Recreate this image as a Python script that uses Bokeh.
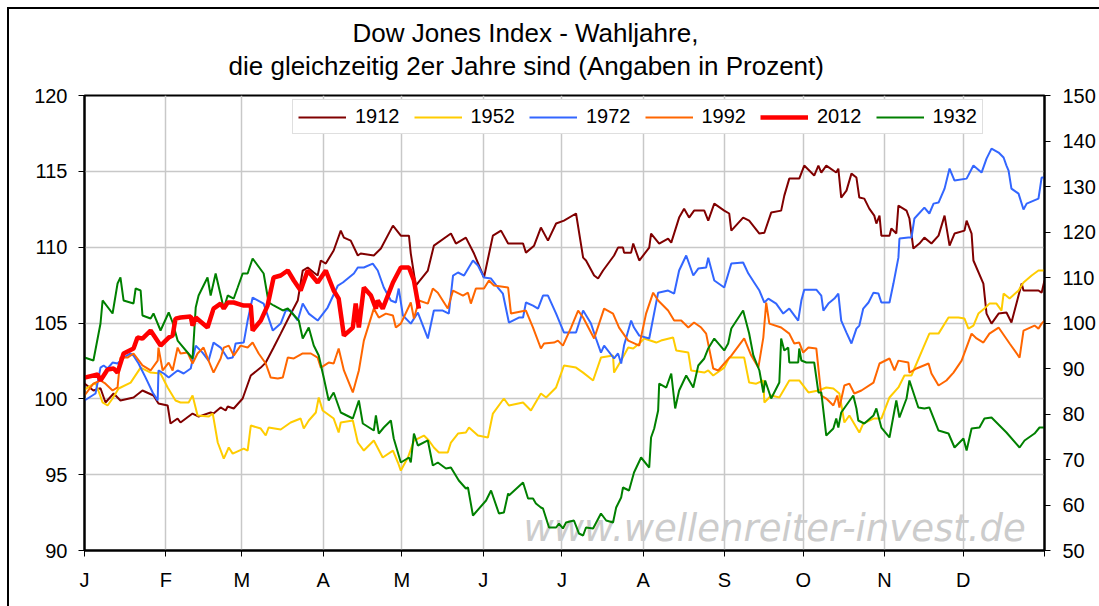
from bokeh.plotting import figure
from bokeh.models import (Range1d, LinearAxis, FixedTicker, Legend, Label, Title)
from bokeh.embed import file_html
from bokeh.resources import INLINE

# ---------------- data (day of year, value in percent) ----------------
months = ["J", "F", "M", "A", "M", "J", "J", "A", "S", "O", "N", "D"]
month_start_days = [0, 31, 60, 91, 121, 152, 182, 213, 244, 274, 305, 335, 366]

d1912 = [0, 3.4, 6.1, 8.0, 11.1, 13.7, 18.7, 22.1, 26.3, 28.2, 31.7, 32.8, 35.5, 36.6, 41.2, 43.5, 48.1, 49.2,
         51.9, 53.8, 54.6, 56.9, 60.3, 63.4, 67.2, 69.1, 72.1, 74.8, 77.9, 81.3, 83.2, 85.1, 87.4, 88.9, 90.1,
         92.0, 95.0, 97.7, 98.9, 101.5, 104.2, 105.3, 110.3, 113.0, 117.6, 120.6, 123.7, 124.4, 126.3, 130.9,
         133.2, 139.7, 141.6, 145.4, 148.5, 152.3, 155.7, 158.8, 161.5, 167.2, 168.3, 171.4, 174.0, 176.7,
         179.8, 182.8, 187.4, 190.1, 191.2, 194.3, 195.8, 197.7, 201.9, 203.4, 205.3, 205.7, 208.4, 209.2,
         211.5, 215.3, 216.0, 219.1, 222.5, 223.7, 226.7, 228.6, 230.5, 232.4, 236.3, 237.8, 240.1, 243.9,
         245.8, 246.6, 251.1, 253.4, 257.3, 259.2, 261.8, 265.6, 266.8, 268.7, 272.5, 274.4, 278.2, 279.8,
         280.9, 282.8, 286.6, 287.4, 288.5, 290.5, 292.4, 294.3, 295.4, 297.3, 299.2, 301.1, 301.9, 303.1,
         303.8, 306.9, 307.6, 309.5, 310.3, 313.4, 314.5, 316.0, 318.3, 320.2, 322.9, 325.6, 327.9, 329.8,
         331.7, 335.5, 336.3, 338.2, 338.9, 342.7, 343.9, 345.8, 348.5, 351.5, 353.4, 357.3, 358.0, 363.7,
         364.9, 366]
v1912 = [101.0, 100.55, 100.7, 99.76, 100.35, 99.89, 100.09, 100.55, 100.22, 99.69, 99.56, 98.37, 98.7, 98.44,
         99.03, 98.83, 99.1, 99.03, 99.43, 99.23, 99.49, 99.36, 100.02, 101.54, 102.06, 102.39, 103.38, 104.3,
         105.36, 106.48, 108.46, 108.66, 108.33, 108.13, 109.12, 108.92, 109.78, 111.09, 110.63, 110.43, 109.45,
         109.58, 109.45, 109.91, 111.42, 110.76, 110.76, 109.58, 107.47, 108.46, 110.1, 110.9, 110.24, 110.63,
         109.58, 108.0, 110.76, 111.09, 110.24, 110.24, 109.64, 110.1, 111.29, 110.43, 111.56, 111.75, 112.22,
         109.31, 109.12, 108.13, 107.93, 108.46, 109.45, 109.97, 109.97, 109.64, 109.64, 110.24, 109.12, 109.97,
         110.9, 110.24, 110.57, 110.3, 111.95, 112.54, 111.95, 112.41, 112.41, 111.75, 112.87, 112.41, 112.22,
         111.09, 111.95, 111.75, 110.9, 110.95, 112.28, 112.41, 113.4, 114.52, 114.52, 115.38, 114.72, 115.38,
         114.92, 115.38, 114.92, 115.18, 113.27, 113.73, 114.85, 114.59, 113.27, 113.2, 112.54, 112.08, 111.56,
         112.08, 110.76, 110.76, 111.23, 110.9, 112.74, 112.41, 111.89, 109.91, 110.24, 110.63, 110.24, 110.76,
         112.08, 110.1, 110.9, 111.09, 111.75, 110.9, 109.12, 107.6, 105.62, 104.96, 105.62, 105.69, 105.03,
         107.6, 107.14, 107.14, 107.0, 107.8]

d1952 = [0, 4.2, 6.9, 8.8, 10.7, 13.0, 17.6, 21.4, 25.2, 29.0, 31.7, 34.7, 36.6, 39.7, 41.2, 43.1, 47.3, 48.9,
         50.8, 53.1, 55.0, 56.5, 60.7, 62.2, 63.4, 67.2, 69.1, 70.2, 74.8, 78.6, 82.4, 83.6, 85.5, 88.2, 89.3,
         90.8, 95.0, 96.9, 97.7, 102.3, 104.2, 106.5, 110.3, 113.7, 117.6, 119.5, 120.6, 123.3, 125.6, 129.4,
         131.3, 133.2, 135.1, 138.5, 139.7, 142.4, 145.4, 146.6, 150.0, 153.8, 155.7, 159.9, 161.8, 167.2,
         170.2, 174.0, 176.0, 179.8, 182.8, 187.4, 190.1, 193.9, 196.9, 201.5, 201.9, 204.6, 207.3, 209.2,
         211.5, 213.4, 218.0, 219.8, 224.4, 225.6, 230.2, 231.3, 236.3, 237.8, 239.7, 243.9, 245.8, 251.5,
         253.4, 256.1, 258.8, 259.2, 261.8, 264.9, 268.7, 272.5, 276.0, 279.8, 282.8, 285.5, 287.8, 289.7,
         291.6, 295.4, 296.9, 300.8, 303.8, 306.9, 310.3, 312.6, 315.3, 316.4, 319.8, 322.1, 325.6, 329.4,
         333.2, 335.5, 337.0, 338.9, 340.8, 343.1, 345.0, 347.7, 349.6, 350.4, 352.7, 356.1, 358.0, 361.1,
         363.7, 366]
v1952 = [100.6, 101.07, 99.76, 99.56, 100.02, 100.68, 101.07, 102.06, 101.73, 101.67, 100.75, 99.89, 99.76,
         99.76, 100.22, 98.9, 98.83, 99.03, 97.12, 96.06, 96.79, 96.39, 96.72, 96.59, 98.24, 98.04, 97.58,
         98.11, 97.98, 98.44, 98.7, 98.04, 98.57, 99.1, 100.09, 99.23, 98.7, 97.78, 98.44, 98.57, 97.12, 96.59,
         97.25, 96.13, 96.59, 95.8, 95.27, 96.13, 97.25, 97.58, 97.25, 96.79, 96.46, 96.46, 97.12, 97.71,
         97.78, 98.11, 97.58, 97.45, 99.03, 100.02, 99.56, 99.76, 99.23, 100.35, 100.09, 100.75, 102.2, 102.06,
         101.73, 101.21, 102.72, 102.85, 101.73, 102.52, 103.38, 103.32, 103.65, 103.98, 103.71, 103.84,
         104.04, 103.18, 103.05, 101.87, 101.73, 101.87, 101.54, 102.06, 102.72, 102.72, 101.07, 101.0, 101.21,
         99.76, 100.22, 100.09, 101.21, 101.21, 100.42, 100.55, 100.75, 100.68, 100.35, 98.44, 98.9, 97.78,
         98.37, 98.7, 98.7, 100.09, 100.75, 101.54, 101.54, 102.0, 103.38, 104.3, 104.3, 105.36, 105.36,
         105.29, 104.63, 104.83, 105.62, 105.95, 106.28, 106.28, 105.82, 106.94, 106.61, 107.14, 107.67,
         108.13, 108.46, 108.46]

d1972 = [0, 4.2, 6.1, 7.3, 8.8, 10.7, 12.6, 14.9, 17.6, 18.7, 20.6, 23.3, 26.0, 27.9, 28.2, 30.2, 32.1, 34.0,
         35.5, 37.8, 40.5, 42.4, 45.0, 47.3, 49.2, 51.9, 54.6, 56.5, 57.6, 60.7, 62.2, 64.1, 68.3, 71.8, 74.8,
         76.7, 78.6, 81.3, 83.2, 85.5, 88.9, 92.7, 96.6, 98.5, 102.7, 104.2, 106.5, 109.9, 111.8, 114.1, 116.8,
         118.7, 119.8, 121.4, 124.4, 127.1, 130.9, 133.2, 136.6, 138.9, 140.5, 142.4, 144.7, 148.1, 150.0,
         152.3, 155.0, 157.6, 159.5, 161.8, 165.6, 167.2, 168.3, 171.0, 172.9, 174.8, 176.7, 179.8, 182.8,
         187.4, 190.1, 193.1, 195.0, 196.9, 198.1, 201.9, 203.4, 204.6, 205.7, 208.4, 209.5, 211.5, 215.3,
         218.7, 222.5, 224.8, 226.7, 229.4, 232.1, 234.0, 237.0, 237.8, 240.1, 243.9, 246.6, 251.1, 253.1,
         255.3, 257.3, 259.2, 260.7, 263.7, 266.4, 268.7, 272.1, 273.3, 274.4, 279.0, 280.9, 281.7, 283.6,
         285.9, 287.4, 288.5, 290.5, 292.4, 294.3, 295.4, 296.9, 298.9, 300.8, 302.7, 303.8, 306.9, 308.4,
         310.3, 310.7, 314.1, 315.3, 316.4, 320.2, 322.1, 323.7, 325.6, 327.9, 329.8, 331.7, 336.3, 338.9,
         342.0, 343.9, 345.8, 348.5, 350.4, 351.5, 352.3, 353.4, 356.1, 358.0, 359.2, 363.7, 364.9, 366]
v1972 = [99.89, 100.35, 102.06, 102.2, 102.0, 102.39, 102.33, 102.72, 102.99, 102.85, 102.33, 101.4, 100.42,
         99.89, 101.87, 101.67, 101.4, 101.67, 101.87, 101.67, 102.0, 103.51, 103.05, 102.52, 103.71, 103.38,
         102.66, 102.72, 103.65, 103.71, 105.16, 106.68, 106.28, 104.5, 104.96, 105.82, 105.82, 105.16, 106.28,
         105.62, 105.16, 106.02, 107.47, 107.67, 108.26, 108.66, 108.66, 108.92, 108.46, 107.34, 106.48,
         106.35, 107.27, 105.49, 104.96, 105.69, 103.98, 105.82, 105.82, 105.62, 108.13, 108.33, 108.13,
         109.12, 108.79, 108.0, 107.93, 107.34, 106.94, 105.03, 105.36, 105.36, 106.35, 106.15, 105.95, 106.81,
         106.81, 105.62, 104.37, 104.37, 105.82, 104.96, 103.98, 103.05, 103.51, 102.66, 102.99, 102.33,
         103.51, 105.16, 104.7, 104.17, 103.98, 107.0, 107.14, 106.94, 108.46, 109.45, 108.13, 108.59, 108.66,
         109.31, 107.8, 107.34, 108.92, 108.99, 108.26, 107.67, 107.14, 106.35, 106.61, 106.28, 105.62,
         105.95, 105.16, 106.48, 107.2, 107.2, 106.81, 105.82, 106.28, 106.61, 106.94, 105.16, 104.37, 103.65,
         104.63, 104.83, 105.95, 106.35, 107.0, 106.94, 106.35, 106.35, 107.6, 109.31, 110.57, 110.63, 110.63,
         111.89, 112.61, 112.22, 112.87, 112.94, 113.86, 115.18, 114.39, 114.52, 115.38, 114.92, 115.84,
         116.5, 116.24, 115.91, 115.38, 115.05, 113.86, 113.53, 112.48, 112.87, 113.2, 114.59, 114.59]

d1992 = [0, 3.4, 6.1, 8.0, 10.7, 12.6, 13.7, 16.4, 18.7, 22.1, 25.2, 27.9, 28.2, 29.8, 32.1, 33.6, 35.5, 36.6,
         39.3, 41.2, 43.1, 45.4, 47.3, 49.2, 51.9, 53.1, 55.0, 56.9, 59.5, 62.2, 64.1, 66.4, 69.1, 71.0, 73.7,
         75.6, 77.5, 79.8, 83.2, 86.3, 88.9, 90.1, 93.1, 95.0, 96.9, 98.9, 102.3, 104.6, 106.5, 110.3, 112.2,
         114.9, 117.6, 118.7, 120.6, 124.4, 125.6, 127.5, 130.9, 132.8, 134.7, 138.5, 140.5, 144.3, 146.2,
         147.3, 149.2, 152.3, 154.2, 156.1, 161.5, 162.6, 168.3, 171.0, 174.0, 175.2, 179.0, 180.5, 182.4,
         185.5, 188.2, 190.1, 194.3, 198.1, 201.5, 203.8, 207.3, 211.5, 214.1, 216.8, 218.7, 222.5, 224.8,
         227.5, 230.2, 232.4, 235.1, 237.0, 239.7, 241.6, 243.9, 246.6, 251.5, 254.2, 256.9, 258.8, 259.9,
         261.1, 265.6, 268.7, 270.6, 272.5, 274.0, 276.0, 279.0, 280.9, 282.8, 285.5, 287.0, 287.8, 289.7,
         291.6, 293.5, 296.2, 300.8, 303.1, 306.9, 308.8, 310.3, 314.1, 314.5, 317.2, 321.8, 322.9, 325.6,
         328.6, 331.3, 334.4, 338.2, 340.1, 342.7, 345.0, 348.5, 352.7, 356.5, 358.0, 362.2, 363.7, 364.9, 366]
v1992 = [100.22, 101.0, 101.21, 101.0, 100.55, 100.75, 102.72, 102.72, 102.99, 102.2, 101.87, 102.52, 103.38,
         101.87, 102.39, 101.87, 103.38, 102.99, 103.05, 102.33, 102.99, 103.38, 102.52, 101.73, 102.66,
         103.38, 103.51, 102.85, 103.51, 103.38, 103.71, 102.99, 102.33, 101.4, 101.34, 101.4, 102.72, 102.66,
         102.99, 102.99, 102.72, 102.06, 102.39, 102.33, 103.32, 101.87, 100.42, 101.87, 103.84, 105.95,
         105.36, 105.62, 105.49, 104.7, 104.96, 106.35, 105.29, 106.48, 106.28, 107.27, 107.0, 105.95, 107.14,
         106.81, 107.0, 106.28, 107.27, 107.27, 107.8, 107.47, 107.34, 105.62, 105.82, 104.7, 103.32, 103.65,
         103.71, 103.84, 103.51, 104.7, 105.82, 105.36, 103.98, 105.95, 105.62, 104.7, 103.84, 103.51, 105.62,
         107.0, 106.48, 105.82, 105.16, 105.16, 104.7, 105.03, 104.7, 104.3, 102.0, 101.87, 102.33, 102.85,
         103.98, 102.85, 102.06, 104.04, 106.35, 104.96, 104.7, 104.3, 103.65, 103.71, 103.05, 103.38, 103.32,
         100.22, 100.02, 99.56, 100.22, 99.43, 100.88, 101.0, 100.35, 100.55, 101.07, 102.33, 102.66, 101.87,
         102.52, 102.39, 101.73, 102.0, 102.33, 101.67, 100.88, 101.21, 101.73, 102.52, 104.3, 103.98, 103.71,
         104.3, 104.7, 103.65, 102.72, 104.5, 104.83, 104.63, 104.96, 105.16]

d2012 = [0, 5, 6.1, 8.8, 11.1, 12.6, 14.9, 18.7, 20.2, 22.1, 25.2, 29.0, 32.1, 33.6, 34.7, 36.6, 40.5, 41.2,
         42.4, 46.9, 49.2, 51.9, 53.1, 54.6, 56.9, 60.7, 63.4, 64.1, 67.2, 69.8, 72.1, 74.8, 77.5, 79.8, 82.4,
         85.1, 88.9, 92.0, 95.0, 96.9, 98.9, 102.3, 103.4, 104.6, 106.5, 109.2, 111.1, 111.8, 113.7, 117.6,
         120.6, 123.7, 125.6, 127.5]
v2012 = [101.4, 101.6, 101.21, 101.93, 102.0, 101.73, 102.99, 103.32, 104.04, 103.97, 104.5, 103.51, 104.04,
         104.17, 105.29, 105.36, 105.43, 104.83, 105.36, 104.7, 105.95, 106.28, 105.95, 106.35, 106.35, 106.15,
         106.15, 104.5, 105.16, 106.15, 108.0, 108.13, 108.46, 107.8, 107.14, 108.46, 107.67, 108.46, 107.14,
         106.61, 104.17, 104.7, 106.28, 104.7, 107.34, 106.81, 105.95, 106.48, 105.95, 107.67, 108.66, 108.66,
         107.8, 105.95]

d1932 = [0, 3.4, 6.1, 6.9, 10.7, 12.6, 13.7, 14.9, 18.7, 19.5, 21.4, 22.1, 25.2, 26.3, 29.0, 32.1, 33.6, 35.5,
         41.2, 42.4, 43.5, 46.9, 48.1, 50.0, 53.1, 54.6, 56.9, 58.4, 60.3, 62.2, 64.1, 68.3, 70.2, 72.1, 75.6,
         77.5, 81.7, 83.2, 85.5, 87.4, 89.3, 91.2, 93.1, 95.0, 97.7, 102.3, 104.6, 106.1, 110.3, 111.1, 112.2,
         114.1, 116.8, 117.9, 120.6, 123.7, 124.4, 125.6, 127.1, 130.9, 132.8, 134.7, 137.8, 139.7, 142.7,
         145.4, 146.2, 148.1, 153.1, 155.0, 158.0, 159.9, 161.5, 161.8, 167.2, 169.1, 171.0, 172.1, 174.0,
         174.8, 177.1, 179.8, 180.9, 182.4, 183.6, 186.6, 188.5, 190.1, 191.2, 193.9, 196.9, 198.9, 201.5,
         202.7, 204.6, 205.3, 207.6, 209.5, 212.2, 215.3, 216.0, 217.2, 218.7, 219.1, 221.8, 223.7, 225.2,
         226.7, 229.4, 232.1, 234.0, 236.3, 237.8, 240.1, 243.9, 245.4, 246.6, 251.1, 253.4, 255.0, 257.3,
         258.8, 259.5, 261.8, 264.9, 265.6, 266.8, 268.3, 268.7, 272.1, 272.5, 273.3, 275.2, 278.2, 279.8,
         280.9, 282.8, 285.5, 286.6, 287.4, 288.5, 291.2, 293.1, 294.3, 295.0, 297.3, 300.8, 301.9, 303.8,
         306.9, 309.5, 310.7, 313.4, 314.5, 317.9, 320.2, 322.1, 325.6, 329.4, 331.7, 335.1, 336.3, 338.2,
         341.2, 343.1, 345.8, 351.5, 356.5, 358.4, 362.2, 364.1, 366]
v1932 = [92.42, 91.76, 99.89, 104.95, 102.09, 108.68, 110.0, 104.95, 104.29, 107.58, 107.14, 101.65, 100.99,
         102.09, 98.35, 102.31, 100.11, 96.15, 92.2, 103.41, 106.04, 110.0, 106.04, 110.88, 103.19, 106.04,
         105.38, 107.8, 110.88, 110.88, 114.18, 110.88, 104.51, 103.85, 102.75, 103.19, 100.55, 96.59, 99.01,
         95.05, 92.86, 88.02, 82.97, 84.73, 80.33, 79.01, 82.97, 77.91, 76.37, 79.67, 75.71, 77.03, 78.57,
         74.62, 69.34, 70.44, 69.34, 75.71, 73.08, 74.18, 68.68, 69.34, 68.02, 68.24, 65.38, 63.63, 63.85,
         57.69, 60.99, 63.19, 58.13, 58.35, 62.53, 62.09, 64.95, 61.43, 61.43, 60.33, 59.45, 59.23, 55.05,
         55.05, 55.93, 54.84, 56.15, 56.59, 53.74, 53.3, 55.05, 54.84, 58.13, 56.59, 56.15, 59.45, 61.65,
         63.85, 63.19, 67.14, 70.44, 68.24, 74.84, 76.81, 80.77, 86.7, 85.82, 88.9, 81.21, 85.16, 88.46, 85.82,
         90.66, 92.2, 94.4, 96.59, 93.96, 95.49, 98.79, 102.75, 97.69, 92.86, 89.56, 84.73, 87.36, 83.41,
         86.92, 96.59, 93.96, 94.62, 91.32, 91.32, 94.4, 91.76, 91.32, 91.32, 84.73, 84.73, 75.27, 76.81,
         79.01, 77.03, 80.33, 82.53, 84.07, 81.21, 78.57, 77.91, 79.67, 81.21, 77.03, 74.84, 82.97, 79.23,
         83.41, 87.36, 81.43, 81.21, 81.43, 76.37, 75.71, 72.64, 74.62, 71.98, 76.81, 77.03, 79.01, 79.23,
         75.93, 72.64, 74.18, 75.71, 77.03, 77.03]

left_ticks = [90, 95, 100, 105, 110, 115, 120]
right_ticks = [50, 60, 70, 80, 90, 100, 110, 120, 130, 140, 150]

title_line1 = "Dow Jones Index - Wahljahre,"
title_line2 = "die gleichzeitig 2er Jahre sind (Angaben in Prozent)"
watermark = "www.wellenreiter-invest.de"

FONT = "Liberation Sans"

# ---------------- figure ----------------
p = figure(width=1099, height=606, output_backend="svg", toolbar_location=None,
           x_range=Range1d(0, 366), y_range=Range1d(90, 120),
           min_border_left=84, min_border_right=55, min_border_top=95, min_border_bottom=56)
p.extra_y_ranges = {"right": Range1d(50, 150)}

p.background_fill_color = "white"
p.border_fill_alpha = 0
# outer chart border (left and top edges) drawn behind the transparent border area
p.styles = {"background": "linear-gradient(#000,#000) 7px 7px / 2px 700px no-repeat, "
                          "linear-gradient(#000,#000) 7px 7px / 1200px 2px no-repeat, #ffffff"}
p.outline_line_color = "black"
p.outline_line_width = 2

# two-line title
t2 = Title(text=title_line2, align="left", text_font=FONT, text_font_size="26px",
           text_font_style="normal", text_color="black", offset=144, standoff=30)
t1 = Title(text=title_line1, align="left", text_font=FONT, text_font_size="26px",
           text_font_style="normal", text_color="black", offset=268, standoff=-28)
p.add_layout(t2, "above")
p.add_layout(t1, "above")

# axes
xa = p.xaxis[0]
xa.ticker = FixedTicker(ticks=month_start_days)
xa.major_label_overrides = {d: (months[i] if i < len(months) else "") for i, d in enumerate(month_start_days)}
ya = p.yaxis[0]
ya.ticker = FixedTicker(ticks=left_ticks)
ra = LinearAxis(y_range_name="right", ticker=FixedTicker(ticks=right_ticks))
p.add_layout(ra, "right")

for ax in (xa, ya, ra):
    ax.axis_line_color = "black"
    ax.axis_line_width = 2
    ax.major_tick_line_color = "black"
    ax.major_tick_line_width = 1
    ax.major_tick_out = 6
    ax.major_tick_in = 0
    ax.minor_tick_line_color = None
    ax.major_label_text_font = FONT
    ax.major_label_text_font_size = "20px"
    ax.major_label_text_color = "black"
xa.major_label_standoff = 12
ya.major_label_standoff = 11
ra.major_label_standoff = 12

p.xgrid.ticker = FixedTicker(ticks=month_start_days)
p.xgrid.grid_line_color = "#c8c8c8"
p.xgrid.grid_line_width = 1.5
p.ygrid.grid_line_color = "#c8c8c8"
p.ygrid.grid_line_width = 1.5

# watermark
wm = Label(x=439, y=22, x_units="screen", y_units="screen", text=watermark,
           text_font="DejaVu Sans", text_font_style="italic", text_font_size="37px",
           text_color="#cccccc", text_baseline="alphabetic", level="underlay")
p.add_layout(wm)

# series
r1912 = p.line(d1912, v1912, line_color="#800000", line_width=2)
r1952 = p.line(d1952, v1952, line_color="#ffcc00", line_width=2)
r1972 = p.line(d1972, v1972, line_color="#3366ff", line_width=2)
r1992 = p.line(d1992, v1992, line_color="#ff6600", line_width=2)
r1932 = p.line(d1932, v1932, line_color="#008000", line_width=2, y_range_name="right")
r2012 = p.line(d2012, v2012, line_color="#ff0000", line_width=4.5)

legend = Legend(items=[("1912", [r1912]), ("1952", [r1952]), ("1972", [r1972]),
                       ("1992", [r1992]), ("2012", [r2012]), ("1932", [r1932])],
                orientation="horizontal", location=(208, 416),
                label_text_font=FONT, label_text_font_size="20px", label_text_color="black",
                glyph_width=48, glyph_height=20, label_standoff=9, spacing=14, padding=5,
                margin=0, border_line_color="#c0c0c0", border_line_width=1.5,
                background_fill_color="white", background_fill_alpha=1)
p.add_layout(legend, "center")

open("out.html", "w").write(file_html(p, INLINE))
